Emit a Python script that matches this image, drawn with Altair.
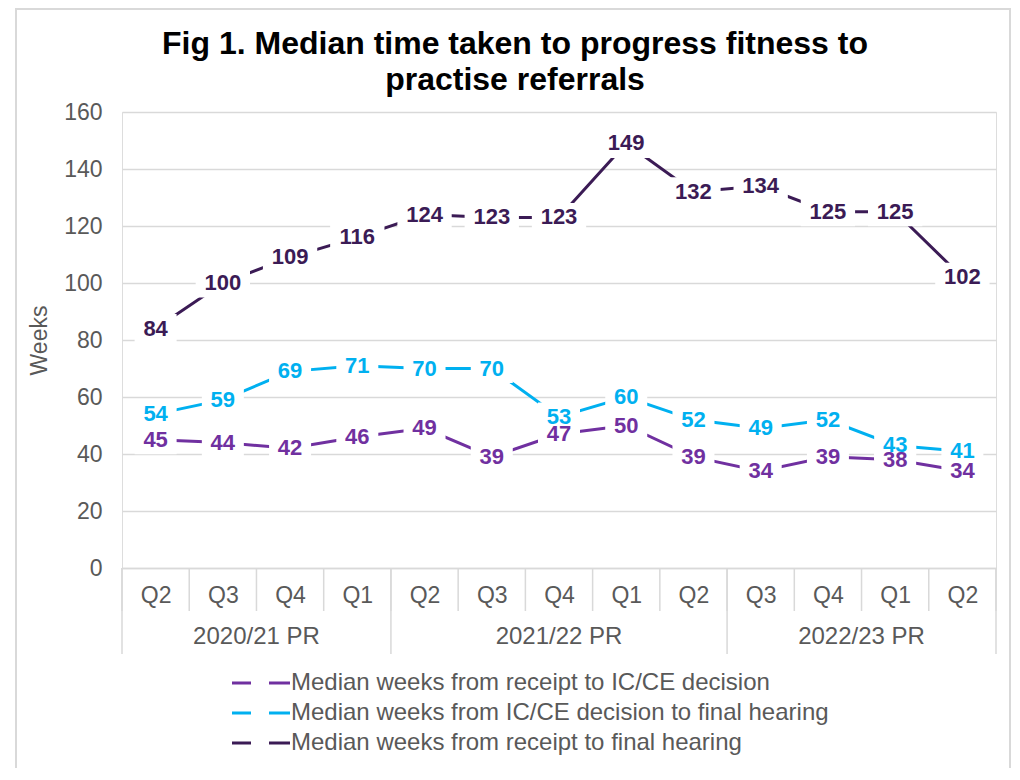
import altair as alt
import pandas as pd

title_lines = ["Fig 1. Median time taken to progress fitness to", "practise referrals"]
quarters = ["Q2", "Q3", "Q4", "Q1", "Q2", "Q3", "Q4", "Q1", "Q2", "Q3", "Q4", "Q1", "Q2"]
years = ["2020/21 PR"] * 4 + ["2021/22 PR"] * 5 + ["2022/23 PR"] * 4
series_names = [
    "Median weeks from receipt to IC/CE decision",
    "Median weeks from IC/CE decision to final hearing",
    "Median weeks from receipt to final hearing",
]
series_colors = ["#7030A0", "#00B0F0", "#3B1B55"]
receipt_to_decision = [45, 44, 42, 46, 49, 39, 47, 50, 39, 34, 39, 38, 34]
decision_to_hearing = [54, 59, 69, 71, 70, 70, 53, 60, 52, 49, 52, 43, 41]
receipt_to_hearing = [84, 100, 109, 116, 124, 123, 123, 149, 132, 134, 125, 125, 102]
y_ticks = [0, 20, 40, 60, 80, 100, 120, 140, 160]

W, H = 874, 456
GREY = "#D9D9D9"
TXT = "#595959"
FONT = "Liberation Sans"

rows = []
for name, vals in zip(series_names, [receipt_to_decision, decision_to_hearing, receipt_to_hearing]):
    for i, v in enumerate(vals):
        rows.append({"idx": i, "quarter": quarters[i], "year": years[i], "series": name,
                     "value": v, "digits": str(len(str(v)))})
df = pd.DataFrame(rows)

cat = pd.DataFrame({"idx": list(range(len(quarters))), "quarter": quarters, "year": years})
seps = []
for i in range(len(quarters) + 1):
    edge = i == 0 or i == len(quarters) or years[i] != years[i - 1]
    seps.append({"pos": i - 0.5, "long": edge})
sep_df = pd.DataFrame(seps)
title_df = pd.DataFrame({"line": title_lines, "n": list(range(len(title_lines)))})

label_expr = "[" + ",".join("'%s'" % q for q in quarters) + "][datum.value]"

xscale = alt.Scale(domain=[-0.5, len(quarters) - 0.5], nice=False, zero=False)
yscale = alt.Scale(domain=[0, 160], nice=False)
color = alt.Color("series:N", scale=alt.Scale(domain=series_names, range=series_colors),
                  sort=series_names,
                  legend=alt.Legend(title=None, orient="none", legendX=127, legendY=559,
                                    direction="vertical",
                                    symbolType="M-2.9,0L-1,0M0.8,0L2.9,0",
                                    symbolStrokeWidth=3, symbolSize=400,
                                    labelFontSize=24, labelColor=TXT,
                                    labelFont=FONT, labelOffset=18, rowPadding=6,
                                    labelLimit=700))

base = alt.Chart(df)

lines = base.mark_line(strokeWidth=3).encode(
    x=alt.X("idx:Q", scale=xscale,
            axis=alt.Axis(title=None, values=list(range(len(quarters))), labelExpr=label_expr,
                          ticks=False, grid=False, domainColor=GREY, domainWidth=1.5,
                          labelFontSize=23, labelColor=TXT, labelFont=FONT, labelPadding=16)),
    y=alt.Y("value:Q", scale=yscale,
            axis=alt.Axis(title="Weeks", values=y_ticks, domain=False, ticks=False,
                          gridColor=GREY, gridWidth=1.5, labelFontSize=23, labelColor=TXT,
                          labelFont=FONT, labelPadding=20, titleFontSize=23,
                          titleFontWeight="normal", titleColor=TXT, titleFont=FONT,
                          titlePadding=12)),
    color=color,
    detail="series:N",
)

box_paths = ["M-0.75,-0.52L0.75,-0.52L0.75,0.52L-0.75,0.52Z",
             "M-0.97,-0.52L0.97,-0.52L0.97,0.52L-0.97,0.52Z"]
boxes = base.mark_point(filled=True, fill="white", opacity=1, strokeWidth=0, size=3136).encode(
    x=alt.X("idx:Q", scale=xscale),
    y=alt.Y("value:Q", scale=yscale),
    shape=alt.Shape("digits:N", scale=alt.Scale(domain=["2", "3"], range=box_paths), legend=None),
)

labels = base.mark_text(fontSize=22, fontWeight="bold", font=FONT, align="center",
                        baseline="middle").encode(
    x=alt.X("idx:Q", scale=xscale),
    y=alt.Y("value:Q", scale=yscale),
    text="value:Q",
    color=alt.Color("series:N", scale=alt.Scale(domain=series_names, range=series_colors),
                    legend=None),
)

sep_short = alt.Chart(sep_df).mark_rule(color=GREY, strokeWidth=1.5).encode(
    x=alt.X("pos:Q", scale=xscale), y=alt.value(H), y2=alt.value(H + 43))
sep_long = alt.Chart(sep_df).transform_filter("datum.long").mark_rule(
    color=GREY, strokeWidth=1.5).encode(
    x=alt.X("pos:Q", scale=xscale), y=alt.value(H), y2=alt.value(H + 86))

year_labels = alt.Chart(cat).transform_aggregate(
    mid="mean(idx)", groupby=["year"]).mark_text(
    fontSize=24, font=FONT, color=TXT, baseline="middle").encode(
    x=alt.X("mid:Q", scale=xscale), y=alt.value(H + 69), text="year:N")

title1 = alt.Chart(title_df).transform_filter("datum.n == 0").mark_text(
    fontSize=32, font=FONT, fontWeight="bold", color="#000000", align="center",
    baseline="middle").encode(x=alt.value(393), y=alt.value(-68), text="line:N")
title2 = alt.Chart(title_df).transform_filter("datum.n == 1").mark_text(
    fontSize=32, font=FONT, fontWeight="bold", color="#000000", align="center",
    baseline="middle").encode(x=alt.value(393), y=alt.value(-32), text="line:N")

border = alt.Chart(alt.Data(values=[{}])).mark_rect(
    fill=None, stroke=GREY, strokeWidth=2).encode(
    x=alt.value(-106), x2=alt.value(888), y=alt.value(-103), y2=alt.value(700))

chart = alt.layer(border, sep_short, sep_long, year_labels, title1, title2,
                  lines, boxes, labels).properties(
    width=W, height=H,
    autosize=alt.AutoSizeParams(type="none"),
    padding={"left": 114, "top": 104, "right": 16, "bottom": 200},
).configure_view(stroke=None).configure(background="white")

chart.save("out.html", embed_options={"renderer": "svg", "actions": False})
